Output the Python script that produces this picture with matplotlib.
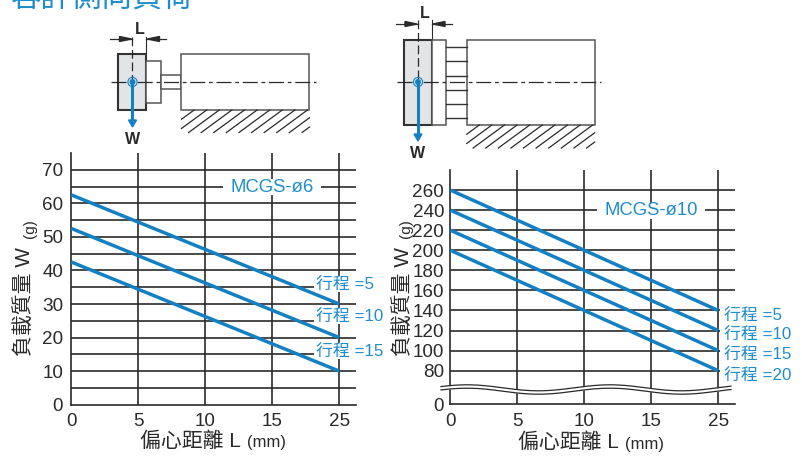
import numpy as np
import matplotlib
matplotlib.use("Agg")
import matplotlib.pyplot as plt
from matplotlib.patches import Rectangle, Polygon

W, H = 803, 457
BLUE = "#1480c4"
TXT_BLUE = "#1f8ccd"
DARK = "#2a2a2a"
FONT = ["Liberation Sans", "Noto Sans CJK TC"]

plt.rcParams["font.family"] = FONT

title = "容許側向負荷"

# the printed x axis is evenly spaced: 0, 5, 10, 15, 25
x_labels = ["0", "5", "10", "15", "25"]
x_pos = [0, 4]  # first and last printed tick, where each line starts and ends

# MCGS-o6
left_name = "MCGS-ø6"
left_series = {"行程 =5": [62.5, 30], "行程 =10": [52.5, 20], "行程 =15": [42.5, 10]}
left_yticks = [0, 10, 20, 30, 40, 50, 60, 70]
left_grid = [5, 10, 15, 20, 25, 30, 35, 40, 45, 50, 55, 60, 65, 70]

# MCGS-o10
right_name = "MCGS-ø10"
right_series = {
    "行程 =5": [260, 140],
    "行程 =10": [240, 120],
    "行程 =15": [220, 100],
    "行程 =20": [200, 80],
}
right_yticks = [0, 80, 100, 120, 140, 160, 180, 200, 220, 240, 260]
right_grid = [80, 100, 120, 140, 160, 180, 200, 220, 240, 260]

fig = plt.figure(figsize=(W / 100, H / 100), dpi=100)


def px_axes(x0, x1, y_top, y_bot):
    return fig.add_axes([x0 / W, 1 - y_bot / H, (x1 - x0) / W, (y_bot - y_top) / H])


def draw_chart(ax, series, yticks, grid, ypad):
    for g in grid:
        ax.axhline(g, color=DARK, lw=1.2, zorder=1)
    for x in range(1, len(x_labels)):
        ax.axvline(x, color=DARK, lw=1.2, zorder=1)
    for s in ["top", "right"]:
        ax.spines[s].set_visible(False)
    for s in ["left", "bottom"]:
        ax.spines[s].set_linewidth(1.2)
        ax.spines[s].set_color(DARK)
    ax.set_xticks(range(len(x_labels)))
    ax.set_xticklabels(x_labels, fontsize=13.6, color=DARK)
    ax.set_yticks(yticks)
    ax.set_yticklabels([str(t) for t in yticks], fontsize=13.6, color=DARK)
    ax.tick_params(axis="x", length=0, pad=6)
    ax.tick_params(axis="y", length=0, pad=ypad)
    for vals in series.values():
        ax.plot(x_pos, vals, color=BLUE, lw=2.5, solid_capstyle="butt", zorder=3)
    ax.set_xlim(0, 4.25)


# left chart
ax1 = px_axes(71.5, 356, 153, 404.7)
ax1.set_ylim(0, 75)
draw_chart(ax1, left_series, left_yticks, left_grid, 6)


# right chart, axis is broken between 0 and 80
def fwd(v):
    v = np.asarray(v, dtype=float)
    return np.where(v >= 80, v, 46.5 + v * 33.5 / 80)


def inv(v):
    v = np.asarray(v, dtype=float)
    return np.where(v >= 46.5 + 33.5, v, (v - 46.5) * 80 / 33.5)


ax2 = px_axes(450.3, 735, 170, 404.3)
ax2.set_yscale("function", functions=(fwd, inv))
ax2.set_ylim(0, 280)
draw_chart(ax2, right_series, right_yticks, right_grid, 4.5)
ax2.minorticks_off()

# overlay in pixel coordinates for break, small labels, schematics
ov = fig.add_axes([0, 0, 1, 1], zorder=10)
ov.set_xlim(0, W)
ov.set_ylim(H, 0)
ov.axis("off")
ov.patch.set_alpha(0)

# axis break
bx = np.linspace(441, 731, 160)
by = 389.5 - 3 * np.cos(2 * np.pi * (bx - 467) / 143)
ov.fill_between(bx, by - 1.7, by + 1.7, color="white", lw=0, zorder=2)
ov.plot(bx, by - 1.7, color=DARK, lw=0.9, zorder=3)
ov.plot(bx, by + 1.7, color=DARK, lw=0.9, zorder=3)

# stroke labels, each sits on a white patch that breaks the grid
for labels, x_start, mask_l, mask_r, ys in [
    (left_series, 316.5, 314, 358, [284, 316, 351]),
    (right_series, 724, 720, 737, [315, 334, 354, 375]),
]:
    for label, y in zip(labels, ys):
        ov.add_patch(Rectangle((mask_l, y - 8), mask_r - mask_l, 16, fc="white", ec="none", zorder=2))
        ov.text(x_start, y, label, color=TXT_BLUE, fontsize=12.2, va="center", ha="left", zorder=4)

# chart names
for name, cx, cy, half in [(left_name, 272.5, 187, 49), (right_name, 651, 210.6, 54)]:
    ov.add_patch(Rectangle((cx - half, cy - 8), half * 2, 16, fc="white", ec="none", zorder=2))
    ov.text(cx, cy, name, color=TXT_BLUE, fontsize=13.3, va="center", ha="center", zorder=4)

# axis titles
for right_edge, cy in [(241, 441.5), (619, 442.5)]:
    ov.text(right_edge, cy, "偏心距離 L", fontsize=15, color=DARK, ha="right", va="center")
    ov.text(right_edge + 6, cy + 1.5, "(mm)", fontsize=12, color=DARK, ha="left", va="center")
for x_c, x_g, cy in [(24, 30, 301), (403, 406, 301)]:
    ov.text(x_c, cy, "負載質量 W", rotation=90, fontsize=15, color=DARK, ha="center", va="center")
    ov.text(x_g, 229, "(g)", fontsize=11, rotation=90, color=DARK, ha="center", va="center")

ov.text(11, 6.5, title, fontsize=22, color=TXT_BLUE, ha="left", va="baseline", clip_on=True)


def arrow_dim(x_left, x_right, y):
    ov.plot([x_left - 22, x_left], [y, y], color=DARK, lw=0.9)
    ov.plot([x_right, x_right + 20], [y, y], color=DARK, lw=0.9)
    ov.add_patch(Polygon([[x_left - 1, y], [x_left - 13, y - 2.5], [x_left - 13, y + 2.5]], color=DARK))
    ov.add_patch(Polygon([[x_right + 1, y], [x_right + 13, y - 2.5], [x_right + 13, y + 2.5]], color=DARK))


def load_mark(cx, cy, y_end, wy):
    ov.add_patch(plt.Circle((cx, cy), 4.6, fc="none", ec=BLUE, lw=0.8, zorder=6))
    ov.add_patch(plt.Circle((cx, cy), 3, fc=BLUE, ec="none", zorder=6))
    ov.plot([cx, cx], [cy, y_end - 5], color=BLUE, lw=2.2, zorder=6)
    ov.add_patch(Polygon([[cx - 4, y_end - 7], [cx + 4, y_end - 7], [cx, y_end]], color=BLUE, zorder=6))
    ov.text(cx, wy, "W", fontsize=11.5, weight="bold", color=DARK, ha="center", va="center")


def hatch(x0, x1, y0, y1):
    dx = 30 * (y1 - y0) / 22
    for xs in np.arange(x0 + 12.6, x1 + dx, 12.6):
        xa, ya, xb, yb = xs - dx, y1, xs, y0
        if xa < x0:
            ya = y1 - (x0 - xa) * (y1 - y0) / dx
            xa = x0
        if xb > x1:
            yb = y0 + (xb - x1) * (y1 - y0) / dx
            xb = x1
        if xa < xb:
            ov.plot([xa, xb], [ya, yb], color=DARK, lw=0.9)


GREY = "#555555"

# schematic for o6
ov.add_patch(Rectangle((118.5, 53.5), 28, 56, fc="#e3e4e6", ec="#333333", lw=1.5))
ov.add_patch(Rectangle((146.5, 61), 14.5, 42, fc="white", ec=GREY, lw=1.1))
ov.add_patch(Rectangle((161, 75), 20.5, 14, fc="white", ec=GREY, lw=1.1))
ov.add_patch(Rectangle((181.5, 53.5), 128, 56, fc="white", ec=GREY, lw=1.1))
ov.plot([111, 316], [82, 82], color=DARK, lw=0.9, dashes=(12, 3, 3, 3))
ov.plot([132.5, 132.5], [37, 82], color=DARK, lw=0.9, dashes=(7, 3))
ov.plot([146.5, 146.5], [37, 53], color=DARK, lw=0.8)
hatch(181.5, 309.5, 110, 132.5)
arrow_dim(132.5, 146.5, 39)
ov.text(140, 29, "L", fontsize=11.5, weight="bold", color=DARK, ha="center", va="center")
load_mark(132.5, 82, 127, 139)

# schematic for o10
ov.add_patch(Rectangle((403.7, 40), 28.3, 84.5, fc="#e3e4e6", ec="#333333", lw=1.5))
ov.add_patch(Rectangle((432, 40), 14, 84.5, fc="white", ec=GREY, lw=1.1))
ov.add_patch(Rectangle((466.7, 40), 128, 84.5, fc="white", ec=GREY, lw=1.1))
for y in (47, 61, 75.5, 89.5, 103.5, 117.5):
    ov.plot([446, 466.7], [y, y], color="#333333", lw=1)
ov.plot([397, 601], [82, 82], color=DARK, lw=0.9, dashes=(12, 3, 3, 3))
ov.plot([418, 418], [20, 82], color=DARK, lw=0.9, dashes=(7, 3))
ov.plot([432, 432], [20, 38], color=DARK, lw=0.8)
hatch(466.7, 594.7, 125, 148)
arrow_dim(418, 432, 24)
ov.text(425, 13, "L", fontsize=11.5, weight="bold", color=DARK, ha="center", va="center")
load_mark(418, 82, 141, 154)

fig.savefig("out.png", dpi=100)
